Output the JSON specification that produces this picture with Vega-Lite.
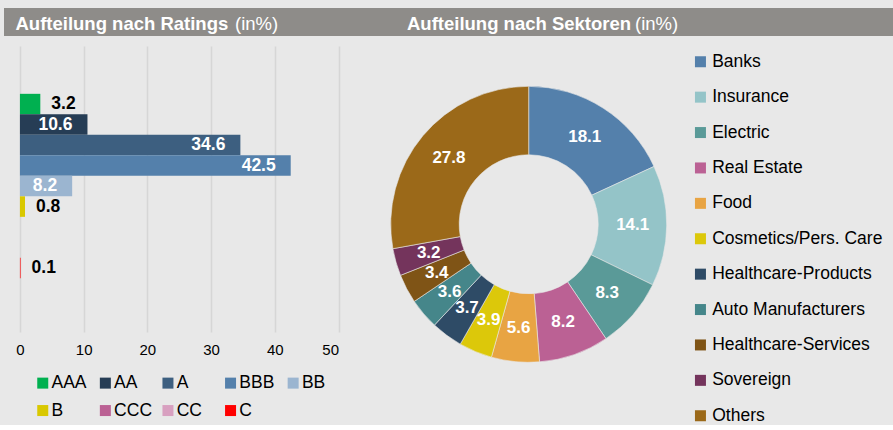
{
  "$schema": "https://vega.github.io/schema/vega-lite/v6.json",
  "background": "#e8e8e8",
  "padding": {"left": 4, "top": 8, "right": 0, "bottom": 0},
  "config": {
    "view": {"stroke": null},
    "font": "Liberation Sans",
    "legend": {"padding": 0}
  },
  "vconcat": [
    {
      "width": 889,
      "height": 28,
      "view": {"fill": "#8e8c89", "stroke": null},
      "layer": [
        {
          "data": {"values": [{"t": "Aufteilung nach Ratings"}]},
          "mark": {"type": "text", "align": "left", "baseline": "alphabetic", "fontWeight": "bold", "fontSize": 18.5, "color": "white"},
          "encoding": {"text": {"field": "t"}, "x": {"value": 11.5}, "y": {"value": 22}}
        },
        {
          "data": {"values": [{"t": "(in%)"}]},
          "mark": {"type": "text", "align": "left", "baseline": "alphabetic", "fontWeight": "normal", "fontSize": 18.5, "color": "white"},
          "encoding": {"text": {"field": "t"}, "x": {"value": 231}, "y": {"value": 22}}
        },
        {
          "data": {"values": [{"t": "Aufteilung nach Sektoren"}]},
          "mark": {"type": "text", "align": "left", "baseline": "alphabetic", "fontWeight": "bold", "fontSize": 18.5, "color": "white"},
          "encoding": {"text": {"field": "t"}, "x": {"value": 403}, "y": {"value": 22}}
        },
        {
          "data": {"values": [{"t": "(in%)"}]},
          "mark": {"type": "text", "align": "left", "baseline": "alphabetic", "fontWeight": "normal", "fontSize": 18.5, "color": "white"},
          "encoding": {"text": {"field": "t"}, "x": {"value": 631}, "y": {"value": 22}}
        }
      ]
    },
    {
      "resolve": {"scale": {"color": "independent"}, "legend": {"color": "independent"}},
      "spacing": 49.7,
      "hconcat": [
        {
          "width": 334.5,
          "height": 286,
          "data": {"values": [
            {"rating": "AAA", "value": 3.2},
            {"rating": "AA", "value": 10.6},
            {"rating": "A", "value": 34.6},
            {"rating": "BBB", "value": 42.5},
            {"rating": "BB", "value": 8.2},
            {"rating": "B", "value": 0.8},
            {"rating": "CCC", "value": 0},
            {"rating": "CC", "value": 0},
            {"rating": "C", "value": 0.1}
          ]},
          "encoding": {
            "y": {
              "field": "rating", "type": "nominal",
              "scale": {"domain": ["pad1", "pad2", "AAA", "AA", "A", "BBB", "BB", "B", "CCC", "CC", "C", "pad3", "pad4"], "paddingInner": 0, "paddingOuter": 0.475, "align": 0.35},
              "axis": null
            },
            "x": {
              "field": "value", "type": "quantitative",
              "scale": {"domain": [-2.5, 50], "nice": false, "zero": false},
              "axis": {"values": [0, 10, 20, 30, 40, 50], "grid": true, "gridColor": "#d6d6d6", "gridWidth": 1.6, "domain": false, "ticks": false, "labelFontSize": 15, "labelColor": "#000000", "labelPadding": 10, "title": null}
            }
          },
          "layer": [
            {
              "mark": {"type": "bar"},
              "encoding": {
                "x2": {"datum": 0},
                "color": {
                  "field": "rating", "type": "nominal",
                  "scale": {
                    "domain": ["AAA", "AA", "A", "BBB", "BB", "B", "CCC", "CC", "C"],
                    "range": ["#00b050", "#263d55", "#3d5f80", "#5480ab", "#9bb5d0", "#d9c800", "#bb6194", "#d8a0c0", "#ff0000"]
                  },
                  "legend": {
                    "orient": "none", "legendX": 30, "legendY": 328,
                    "direction": "horizontal", "columns": 5, "gridAlign": "all",
                    "title": null, "symbolType": "square", "symbolSize": 121,
                    "symbolStrokeWidth": 0, "labelFontSize": 17.5, "labelColor": "#000000",
                    "labelOffset": 0, "columnPadding": 6.6, "rowPadding": 8.8
                  }
                }
              }
            },
            {
              "transform": [{"filter": "datum.value >= 5"}],
              "mark": {"type": "text", "align": "right", "dx": -15, "fontWeight": "bold", "fontSize": 17.5, "color": "white"},
              "encoding": {"text": {"field": "value", "type": "quantitative", "format": ".1f"}}
            },
            {
              "transform": [{"filter": "datum.value > 0 && datum.value < 5"}],
              "mark": {"type": "text", "align": "left", "dx": 11, "fontWeight": "bold", "fontSize": 17.5, "color": "#000000"},
              "encoding": {"text": {"field": "value", "type": "quantitative", "format": ".1f"}}
            }
          ]
        },
        {
          "width": 280,
          "height": 356.6,
          "data": {"values": [
            {"sector": "Banks", "value": 18.1, "idx": 1},
            {"sector": "Insurance", "value": 14.1, "idx": 2},
            {"sector": "Electric", "value": 8.3, "idx": 3},
            {"sector": "Real Estate", "value": 8.2, "idx": 4},
            {"sector": "Food", "value": 5.6, "idx": 5},
            {"sector": "Cosmetics/Pers. Care", "value": 3.9, "idx": 6},
            {"sector": "Healthcare-Products", "value": 3.7, "idx": 7},
            {"sector": "Auto Manufacturers", "value": 3.6, "idx": 8},
            {"sector": "Healthcare-Services", "value": 3.4, "idx": 9},
            {"sector": "Sovereign", "value": 3.2, "idx": 10},
            {"sector": "Others", "value": 27.8, "idx": 11}
          ]},
          "encoding": {
            "theta": {"field": "value", "type": "quantitative", "stack": true},
            "order": {"field": "idx", "type": "quantitative"}
          },
          "layer": [
            {
              "mark": {"type": "arc", "innerRadius": 69.5, "outerRadius": 138, "stroke": "#e8e8e8", "strokeWidth": 0.6},
              "encoding": {
                "color": {
                  "field": "sector", "type": "nominal",
                  "scale": {
                    "domain": ["Banks", "Insurance", "Electric", "Real Estate", "Food", "Cosmetics/Pers. Care", "Healthcare-Products", "Auto Manufacturers", "Healthcare-Services", "Sovereign", "Others"],
                    "range": ["#5480ab", "#94c4c8", "#5a9a98", "#bb6194", "#e8a443", "#dcc80a", "#2e4b66", "#45868a", "#7f5416", "#74345c", "#9b6919"]
                  },
                  "legend": {
                    "orient": "none", "legendX": 303, "legendY": 7,
                    "direction": "vertical", "title": null,
                    "symbolType": "square", "symbolSize": 121, "symbolStrokeWidth": 0,
                    "labelFontSize": 17.5, "labelColor": "#000000", "labelOffset": 3,
                    "rowPadding": 16.4, "labelLimit": 300
                  }
                }
              }
            },
            {
              "mark": {"type": "text", "radius": 104, "fontWeight": "bold", "fontSize": 17, "color": "white"},
              "encoding": {"text": {"field": "value", "type": "quantitative", "format": ".1f"}}
            }
          ]
        }
      ]
    }
  ],
  "spacing": 10
}
